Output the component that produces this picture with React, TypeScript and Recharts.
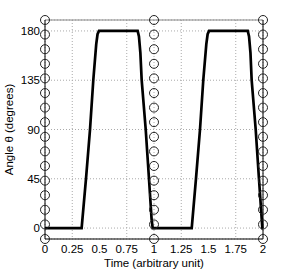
import React from "react";
import {
  ComposedChart,
  Line,
  Scatter,
  XAxis,
  YAxis,
  CartesianGrid,
  ReferenceLine,
} from "recharts";

// curva angulo vs tiempo
const tiempo = [
  0, 0.336, 0.376, 0.413, 0.443, 0.47, 0.482, 0.495, 0.85, 0.862, 0.875,
  0.887, 0.924, 0.954, 0.978, 0.988, 1.346, 1.385, 1.422, 1.452, 1.48, 1.492,
  1.505, 1.86, 1.872, 1.885, 1.896, 1.933, 1.963, 1.994, 2.0,
];
const angulo = [
  0, 0, 45, 90, 135, 168, 177, 180, 180, 175, 160, 135, 90, 45, 8, 0, 0, 45,
  90, 135, 168, 177, 180, 180, 175, 160, 135, 90, 45, 0, 0,
];

// marcadores circulares (columnas en t = 0, 1, 2)
const marcadorX = [0, 1, 2];
const marcadorY = [
  -10, 3.3, 16.7, 30, 43.3, 56.7, 70, 83.3, 96.7, 110, 123.3, 136.7, 150,
  163.3, 176.7, 190,
];

const ticksX = [0, 0.25, 0.5, 0.75, 1, 1.25, 1.5, 1.75, 2];
const ticksY = [0, 45, 90, 135, 180];

const curva = tiempo.map((t, i) => ({ t, a: angulo[i] }));
const marcadores = marcadorX.flatMap((t) => marcadorY.map((a) => ({ t, a })));

const fuente = "'Liberation Sans', Arial, sans-serif";

const Circulo = (props: any) => (
  <circle
    cx={props.cx}
    cy={props.cy}
    r={4.5}
    fill="none"
    stroke="#222"
    strokeWidth={1}
  />
);

export default function App() {
  return (
    <div style={{ position: "absolute", left: 0, top: 0 }}>
      <ComposedChart
        width={291}
        height={272}
        margin={{ top: 20, right: 28, left: 0, bottom: 0 }}
        style={{ fontFamily: fuente }}
      >
        <CartesianGrid stroke="#aaa" strokeDasharray="1 2" />
        <XAxis
          type="number"
          dataKey="t"
          domain={[0, 2]}
          ticks={ticksX}
          height={33}
          stroke="#000"
          tickLine={false}
          tickSize={0}
          tickMargin={6}
          tick={{ fill: "#000", fontSize: 11.5 }}
          label={{
            value: "Time (arbitrary unit)",
            position: "insideBottom",
            offset: 5,
            fill: "#000",
            fontSize: 11.5,
          }}
        />
        <YAxis
          type="number"
          domain={[-10, 190]}
          ticks={ticksY}
          width={45}
          stroke="#000"
          tickLine={false}
          tickSize={0}
          tickMargin={5}
          tick={{ fill: "#000", fontSize: 11.5 }}
          label={{
            value: "Angle θ (degrees)",
            angle: -90,
            position: "insideLeft",
            offset: 9,
            fill: "#000",
            fontSize: 11.5,
            style: { textAnchor: "middle" },
          }}
        />
        <ReferenceLine y={190} stroke="#888" strokeWidth={1.2} />
        <ReferenceLine x={2} stroke="#000" strokeWidth={1} />
        <Line
          data={curva}
          dataKey="a"
          type="linear"
          stroke="#000"
          strokeWidth={2.7}
          dot={false}
          isAnimationActive={false}
        />
        <Scatter
          data={marcadores}
          dataKey="a"
          shape={Circulo}
          isAnimationActive={false}
        />
      </ComposedChart>
    </div>
  );
}
